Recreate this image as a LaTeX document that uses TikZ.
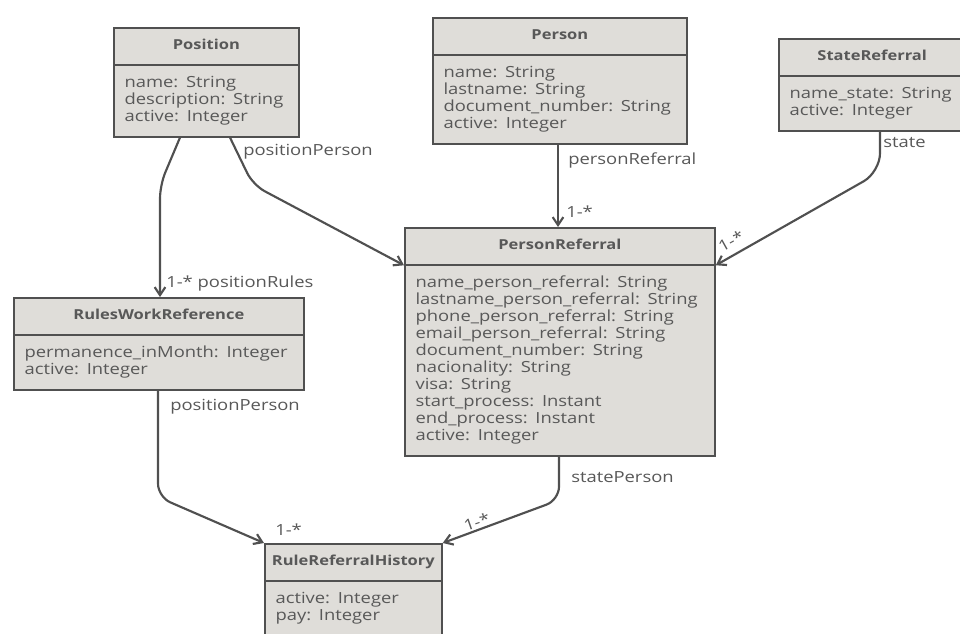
\documentclass[tikz,border=0pt]{standalone}
\usepackage{fontspec}
\usepackage{tikz}
\usetikzlibrary{shapes.multipart,arrows.meta,calc,positioning}
\newfontfamily\umlfont[FakeStretch=1.2]{Open Sans}
\newcommand{\clsfont}{\umlfont\fontsize{11.5}{12.75}\selectfont}
\newcommand{\clstitle}[1]{\makebox[\linewidth]{\strut\fontsize{10.3}{12.75}\selectfont\textbf{#1}}}
\definecolor{boxgray}{RGB}{223,221,217}
\definecolor{linegray}{RGB}{80,80,80}
\definecolor{txtgray}{RGB}{88,88,88}

\begin{document}
\begin{tikzpicture}[
    x=0.75pt, y=-0.75pt,
    cls/.style={rectangle split, rectangle split parts=2, draw=linegray, line width=1.3pt,
        fill=boxgray, text width=#1, align=left, inner xsep=8pt, inner ysep=7pt,
        font=\clsfont, text=txtgray, anchor=north west},
    assoc/.style={draw=linegray, line width=1.6pt, rounded corners=10pt,
        -{Straight Barb[length=6pt,width=8pt]}},
    role/.style={font=\clsfont, text=txtgray, inner sep=0pt, anchor=west}
]
\useasboundingbox[fill=white] (0,0) rectangle (960,633);

% classes
\node[cls=122.75pt] (pos) at (113,27) {\clstitle{Position}
    \nodepart{two}\strut name: String\\description: String\\active: Integer\strut};
\node[cls=174.5pt] (per) at (432,17) {\clstitle{Person}
    \nodepart{two}\strut name: String\\lastname: String\\document\_number: String\\active: Integer\strut};
\node[cls=124pt] (sref) at (778,38) {\clstitle{StateReferral}
    \nodepart{two}\strut name\_state: String\\active: Integer\strut};
\node[cls=216.5pt] (pref) at (404,227) {\clstitle{PersonReferral}
    \nodepart{two}\strut name\_person\_referral: String\\lastname\_person\_referral: String\\phone\_person\_referral: String\\email\_person\_referral: String\\document\_number: String\\nacionality: String\\visa: String\\start\_process: Instant\\end\_process: Instant\\active: Integer\strut};
\node[cls=201.5pt] (rwr) at (13,297) {\clstitle{RulesWorkReference}
    \nodepart{two}\strut permanence\_inMonth: Integer\\active: Integer\strut};
\node[cls=116.75pt] (rrh) at (264,543) {\clstitle{RuleReferralHistory}
    \nodepart{two}\strut active: Integer\\pay: Integer\strut};

% associations
\draw[assoc] ($(pos.south west)+(67,0)$) -- (160,185) -- ($(rwr.north west)+(147,0)$);
\draw[assoc] ($(pos.south west)+(117,0)$) -- (253,185) -- (pref.text split west);
\draw[assoc] ($(per.south west)+(126,0)$) -- ($(pref.north west)+(154,0)$);
\draw[assoc, rounded corners=14pt] ($(sref.south west)+(102,0)$) -- (880,172) -- (pref.text split east);
\draw[assoc] ($(rwr.south west)+(145,0)$) -- (158,497) -- (rrh.north west);
\draw[assoc] ($(pref.south west)+(155,0)$) -- (559,500) -- (rrh.north east);

% roles and multiplicities
\node[role] (lposrules) at (166,284) {1-* positionRules};
\node[role] (lpospers) at (243,152) {positionPerson};
\node[role] (lpersref) at (568,160) {personReferral};
\node[role] (mpersref) at (566,212) {1-*};
\node[role] (lstate) at (883,143) {state};
\node[role, rotate=29, anchor=south west] (mstate) at (722,253) {1-*};
\node[role] (lrwrpers) at (170,407) {positionPerson};
\node[role] (lstatepers) at (571,477) {statePerson};
\node[role] (mrrhleft) at (275,530) {1-*};
\node[role, rotate=19, anchor=south west] (mrrhright) at (466,532) {1-*};
\end{tikzpicture}
\end{document}
